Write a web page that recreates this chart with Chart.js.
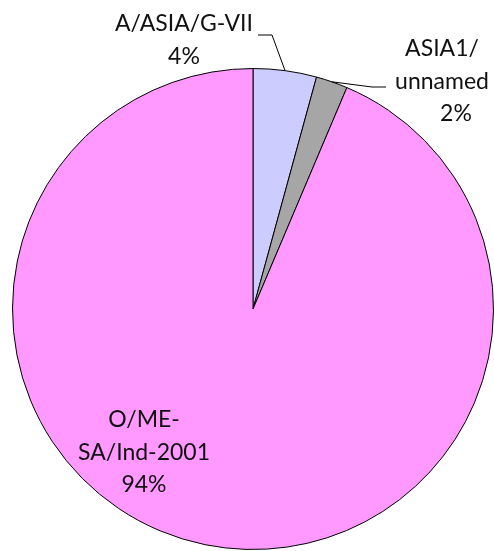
<!DOCTYPE html>
<html>
<head>
<meta charset="utf-8">
<script src="https://cdn.jsdelivr.net/npm/chart.js@4.4.0/dist/chart.umd.min.js"></script>
<style>
  html, body { margin: 0; padding: 0; background: #fff; }
  canvas { display: block; }
</style>
</head>
<body>
<canvas id="chart" width="494" height="551"></canvas>
<script>
// lineage names and number of isolates
const labels = ['A/ASIA/G-VII', 'ASIA1/ unnamed', 'O/ME-SA/Ind-2001'];
const counts = [2, 1, 44];
const colors = ['#CCCCFF', '#A6A6A6', '#FF99FF'];

// how each label is broken into lines, and where it sits
const labelLines = [['A/ASIA/G-VII'], ['ASIA1/', 'unnamed'], ['O/ME-', 'SA/Ind-2001']];
const labelPos = [
  {x: 184, y: 31, lead: [[272, 35], [258, 35]]},
  {x: 442, y: 56, lead: [[372, 87], [386, 87]], pctX: 456},
  {x: 144, y: 427}
];

const FONT = '23px Lato, "Open Sans", sans-serif';
const LINE_H = 32.5;

const total = counts.reduce((a, b) => a + b, 0);

const pieLabels = {
  id: 'pieLabels',
  afterDraw(chart) {
    const ctx = chart.ctx;
    const meta = chart.getDatasetMeta(0);
    ctx.save();
    ctx.font = FONT;
    ctx.fillStyle = '#111';
    ctx.textAlign = 'center';
    ctx.textBaseline = 'alphabetic';
    meta.data.forEach((arc, i) => {
      const p = labelPos[i];
      const lines = labelLines[i].slice();
      const pct = Math.round(counts[i] / total * 100) + '%';
      lines.forEach((t, k) => ctx.fillText(t, p.x, p.y + k * LINE_H));
      ctx.fillText(pct, p.pctX || p.x, p.y + lines.length * LINE_H);

      if (p.lead) {
        const {x, y, startAngle, endAngle, outerRadius} =
          arc.getProps(['x', 'y', 'startAngle', 'endAngle', 'outerRadius'], true);
        const mid = (startAngle + endAngle) / 2;
        ctx.beginPath();
        ctx.moveTo(x + Math.cos(mid) * outerRadius, y + Math.sin(mid) * outerRadius);
        p.lead.forEach(pt => ctx.lineTo(pt[0], pt[1]));
        ctx.strokeStyle = '#000';
        ctx.lineWidth = 1;
        ctx.stroke();
      }
    });
    ctx.restore();
  }
};

new Chart(document.getElementById('chart'), {
  type: 'pie',
  data: {
    labels,
    datasets: [{
      data: counts,
      backgroundColor: colors,
      borderColor: '#000',
      borderWidth: 1
    }]
  },
  options: {
    responsive: false,
    animation: false,
    layout: {padding: {left: 12, top: 67, right: 0, bottom: 0}},
    plugins: {
      legend: {display: false},
      tooltip: {enabled: false}
    }
  },
  plugins: [pieLabels]
});
</script>
</body>
</html>
